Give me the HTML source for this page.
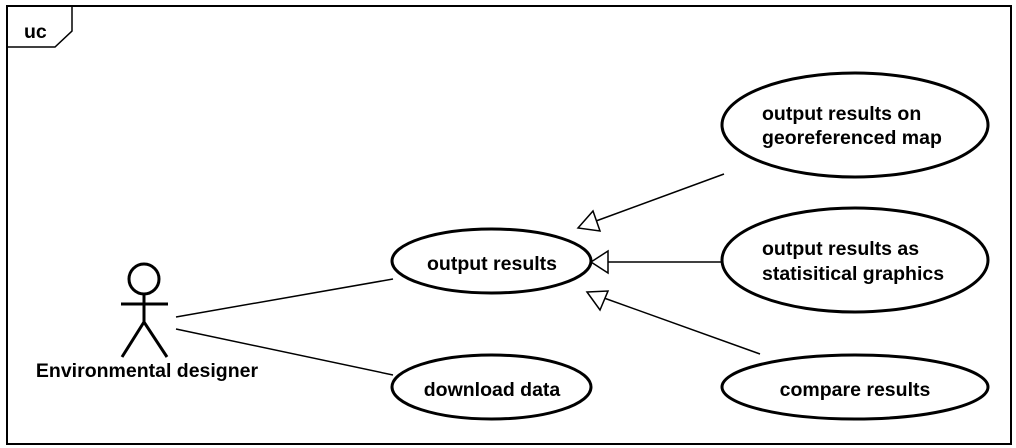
<!DOCTYPE html>
<html><head><style>body{margin:0;background:#fff}svg{display:block}text{font-family:"Liberation Sans",Arial,sans-serif;font-weight:bold;font-size:19.5px;fill:#000}</style></head>
<body>
<svg width="1016" height="448" viewBox="0 0 1016 448">
<rect x="7" y="6" width="1004" height="438" fill="#fff" stroke="#000" stroke-width="2"/>
<polyline points="8,47 55,47 72,31 72,7" fill="none" stroke="#000" stroke-width="1.5"/>
<text x="24" y="38">uc</text>
<g fill="#fff" stroke="#000" stroke-width="3">
<ellipse cx="491.5" cy="261" rx="99.5" ry="32"/>
<ellipse cx="491.5" cy="387" rx="99.5" ry="32"/>
<ellipse cx="855" cy="125" rx="133" ry="52"/>
<ellipse cx="855" cy="260" rx="133" ry="52"/>
<ellipse cx="855" cy="387" rx="133" ry="32"/>
<circle cx="144" cy="279" r="15"/>
</g>
<g stroke="#000" stroke-width="3" fill="none">
<line x1="144" y1="294" x2="144" y2="322"/>
<line x1="121" y1="304" x2="168" y2="304"/>
<polyline points="122,357 144,322 167,357"/>
</g>
<g stroke="#000" stroke-width="1.5" fill="#fff">
<line x1="176" y1="317" x2="393" y2="279"/>
<line x1="176" y1="329" x2="393" y2="375"/>
<line x1="724" y1="174" x2="596" y2="221"/>
<polygon points="578,228 593,211 600,231"/>
<line x1="722" y1="262" x2="608" y2="262"/>
<polygon points="591,262 608,251 608,273"/>
<line x1="760" y1="354" x2="604" y2="298"/>
<polygon points="587,292 608,291 600,310"/>
</g>
<text x="492" y="270" text-anchor="middle">output results</text>
<text x="492" y="396" text-anchor="middle">download data</text>
<text x="762" y="120">output results on</text>
<text x="762" y="144">georeferenced map</text>
<text x="762" y="255">output results as</text>
<text x="762" y="280">statisitical graphics</text>
<text x="855" y="396" text-anchor="middle">compare results</text>
<text x="147" y="377" text-anchor="middle">Environmental designer</text>
</svg>
</body></html>
